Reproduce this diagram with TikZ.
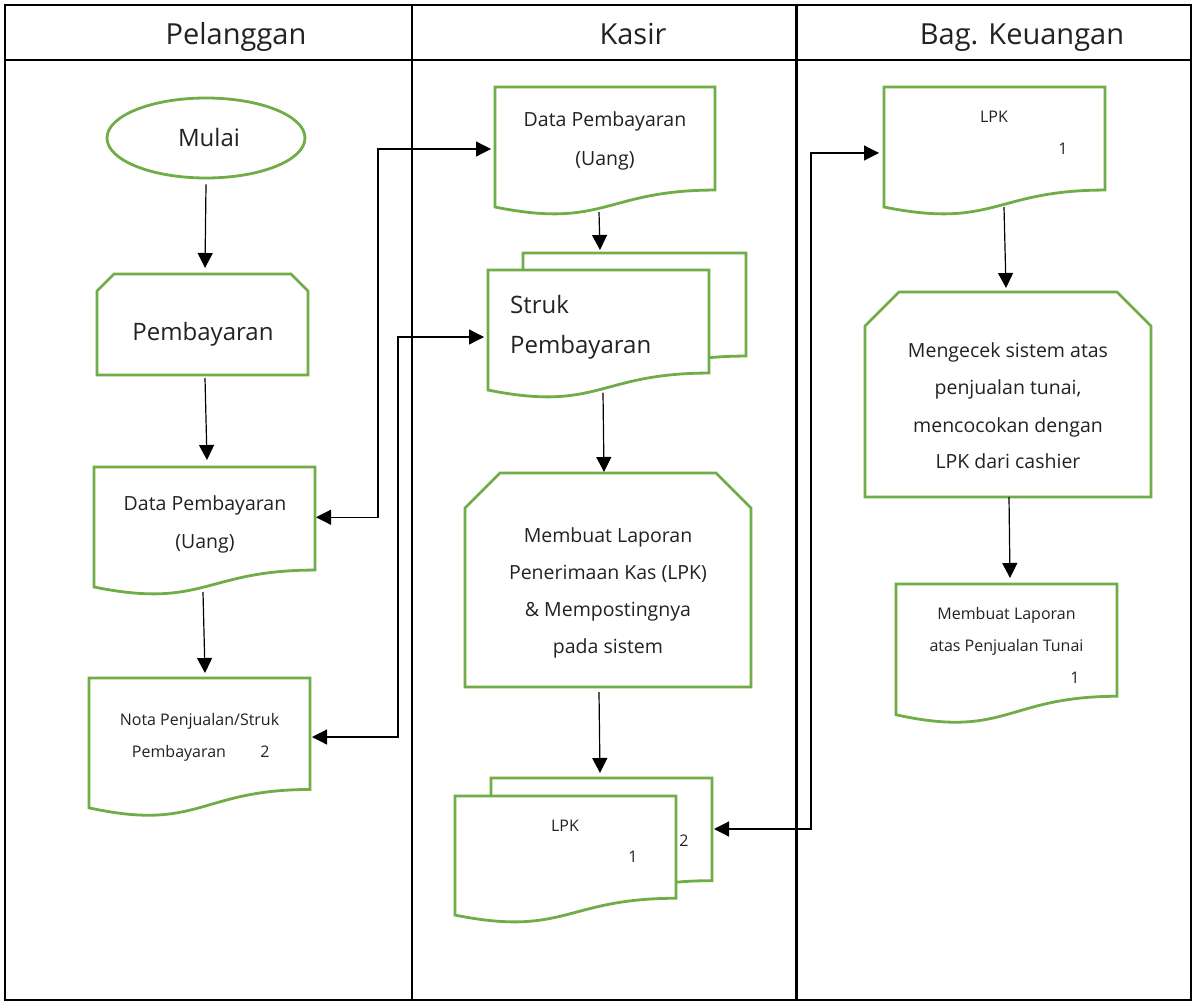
\documentclass[tikz,border=0pt]{standalone}
\usepackage{fontspec}
\setmainfont{Open Sans}
\usetikzlibrary{shapes.geometric,arrows.meta,calc}
\definecolor{docgreen}{HTML}{70AD47}
\definecolor{txtcol}{HTML}{222222}
\newcommand{\docshape}[1]{%
  \draw[gline] (#1.north west) -- (#1.north east) -- ($(#1.north east)!0.802!(#1.south east)$)
  .. controls ($(#1.north)!0.802!(#1.south)$) and ($(#1.north)!1.1075!(#1.south)$) ..
  ($(#1.north west)!0.934!(#1.south west)$) -- cycle;}
\newcommand{\cardshape}[2]{%
  \draw[gline] ($(#1.north west)+(0,#2)$) -- ($(#1.north west)+(#2,0)$) -- ($(#1.north east)+(-#2,0)$)
  -- ($(#1.north east)+(0,#2)$) -- (#1.south east) -- (#1.south west) -- cycle;}
\tikzset{
  gline/.style={draw=docgreen, line width=2.8pt, fill=white, line join=miter},
  box/.style={inner sep=0pt, outer sep=0pt, draw=none},
  arr/.style={line width=1.2pt, -{Triangle[length=15pt,width=15pt]}},
  dbl/.style={line width=1.2pt, {Triangle[length=15pt,width=15pt]}-{Triangle[length=15pt,width=15pt]}},
  tbl/.style={line width=2.5pt, line cap=rect},
  hdr/.style={anchor=base, inner sep=0pt, text=txtcol, font=\fontsize{29}{34}\selectfont},
  big/.style={anchor=base, inner sep=0pt, text=txtcol, font=\fontsize{24}{28}\selectfont},
  mid/.style={anchor=base, inner sep=0pt, text=txtcol, font=\fontsize{19.5}{23}\selectfont},
  sml/.style={anchor=base, inner sep=0pt, text=txtcol, font=\fontsize{16}{19}\selectfont},
}
\begin{document}
\begin{tikzpicture}[x=1pt, y=-1pt]
\useasboundingbox (0,0) rectangle (1194,1003);
\fill[white] (0,0) rectangle (1194,1003);
% table
\draw[tbl] (5,5) rectangle (1191,1000);
\draw[tbl] (5,60) -- (1191,60);
\draw[tbl] (412,5) -- (412,1000);
\draw[tbl] (796.5,5) -- (796.5,1000);
\node[hdr] (h1) at (236,45) {Pelanggan};
\node[hdr] (h2) at (633,45) {Kasir};
\node[hdr] (h3) at (1022,45) {Bag. Keuangan};

% ---------- Pelanggan ----------
\node[ellipse, draw=docgreen, line width=2.8pt, minimum width=198pt, minimum height=80pt,
      inner sep=0pt] (mulai) at (206,138) {};
\node[big] (tmulai) at (209,147) {Mulai};
\node[box, minimum width=211pt, minimum height=101pt] (pemb) at (202.5,324.5) {};
\cardshape{pemb}{17}
\node[big] (tpemb) at (203,340) {Pembayaran};

\node[box, minimum width=221pt, minimum height=128.5pt] (pdoc) at (204.5,531.25) {};
\docshape{pdoc}
\node[mid] (tpd1) at (205,510) {Data Pembayaran};
\node[mid] (tpd2) at (205,548) {(Uang)};

\node[box, minimum width=221pt, minimum height=139pt] (nota) at (199.5,747.5) {};
\docshape{nota}
\node[sml] (tn1) at (199.5,725) {Nota Penjualan/Struk};
\node[sml] (tn2) at (179,757) {Pembayaran};
\node[sml] (tn3) at (265,757) {2};

% ---------- Kasir ----------
\node[box, minimum width=220pt, minimum height=128.5pt] (kdoc) at (605,151.25) {};
\docshape{kdoc}
\node[mid] (tkd1) at (605,127) {Data Pembayaran};
\node[mid] (tkd2) at (605,166) {(Uang)};

\node[box, minimum width=223pt, minimum height=128.5pt] (kback) at (634.5,317.25) {};
\node[box, minimum width=221pt, minimum height=128.5pt] (kfront) at (598.5,334.25) {};
\docshape{kback}
\docshape{kfront}
\node[big, anchor=base west] (ts1) at (510,313) {Struk};
\node[big, anchor=base west] (ts2) at (510,353) {Pembayaran};

\node[box, minimum width=286pt, minimum height=214pt] (lapor) at (608,580) {};
\cardshape{lapor}{35}
\node[mid] (tl1) at (608,542) {Membuat Laporan};
\node[mid] (tl2) at (608,579) {Penerimaan Kas (LPK)};
\node[mid] (tl3) at (608,616.5) {\& Mempostingnya};
\node[mid] (tl4) at (608,653) {pada sistem};

\node[box, minimum width=221pt, minimum height=128pt] (lback) at (601.5,842) {};
\node[box, minimum width=221pt, minimum height=127.5pt] (lfront) at (565.5,859.75) {};
\docshape{lback}
\docshape{lfront}
\node[sml] (tk1) at (565,831) {LPK};
\node[sml] (tk2) at (633,862) {1};
\node[sml] (tk3) at (684,846) {2};

% ---------- Bag. Keuangan ----------
\node[box, minimum width=221pt, minimum height=128.5pt] (klpk) at (994.5,151.25) {};
\docshape{klpk}
\node[sml] (tq1) at (994,123) {LPK};
\node[sml] (tq2) at (1063,155) {1};

\node[box, minimum width=286pt, minimum height=205pt] (cek) at (1008,394.5) {};
\cardshape{cek}{34}
\node[mid] (tc1) at (1008,357) {Mengecek sistem atas};
\node[mid] (tc2) at (1008,394.5) {penjualan tunai,};
\node[mid] (tc3) at (1008,432) {mencocokan dengan};
\node[mid] (tc4) at (1008,468.5) {LPK dari cashier};

\node[box, minimum width=221pt, minimum height=140pt] (lap) at (1006.5,654) {};
\docshape{lap}
\node[sml] (tr1) at (1006.5,619) {Membuat Laporan};
\node[sml] (tr2) at (1006.5,651) {atas Penjualan Tunai};
\node[sml] (tr3) at (1075,683) {1};

% ---------- arrows ----------
\draw[arr] ($(mulai.south)+(0,5)$) -- ($(pemb.north)+(2.5,-6)$);
\draw[arr] ($(pemb.south)+(2.5,3)$) -- ($(pdoc.north)+(2.5,-7)$);
\draw[arr] ($(pdoc.south)+(-1.5,-3.5)$) -- ($(nota.north)+(5.5,-5)$);
\draw[arr] ($(kdoc.south)+(-6,-3.5)$) -- ($(kback.north)+(-34.5,-3)$);
\draw[arr] ($(kfront.south)+(4.5,-5.75)$) -- ($(lapor.north)+(-4,-1)$);
\draw[arr] ($(lapor.south)+(-9,5)$) -- ($(lback.north)+(-1.5,-5)$);
\draw[arr] ($(klpk.south)+(9.5,-8.5)$) -- ($(cek.north)+(-2,-4)$);
\draw[arr] ($(cek.south)+(1,0)$) -- ($(lap.north)+(3.5,-6)$);

\draw[dbl] ($(pdoc.east)+(1,-14)$) -- (378,517.25) -- (378,149) -- ($(kdoc.west)+(-4,-2.25)$);
\draw[dbl] ($(nota.east)+(2,-10.5)$) -- (398,737) -- (398,337) -- ($(kfront.west)+(-4,2.75)$);
\draw[dbl] ($(lback.east)+(2,-13)$) -- (811,829) -- (811,153) -- ($(klpk.west)+(-5,1.75)$);
\end{tikzpicture}
\end{document}
